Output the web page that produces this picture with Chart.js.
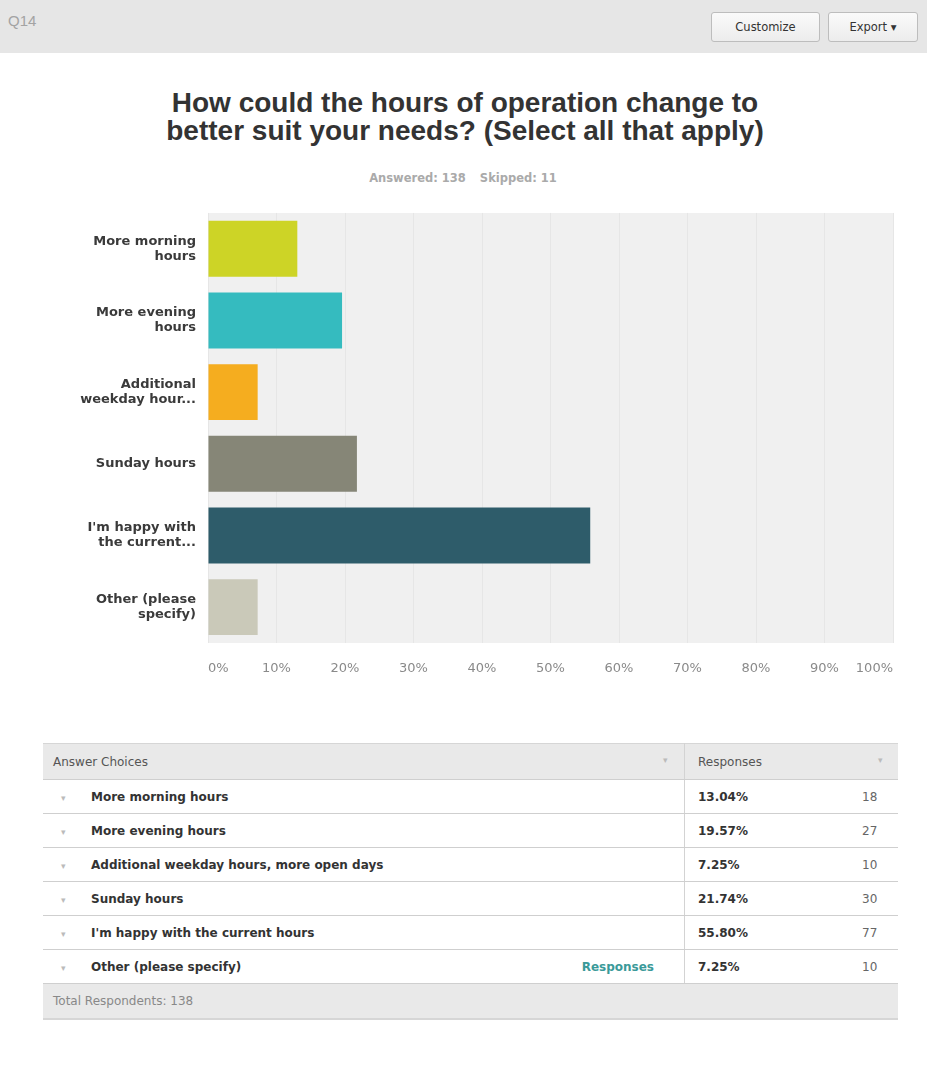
<!DOCTYPE html>
<html lang="en">
  <head>
    <meta charset="UTF-8" />
    <title>Q14 - Hours of operation</title>
    <script src="https://cdn.jsdelivr.net/npm/chart.js"></script>
    <style>
      body {
        margin: 0;
        width: 930px;
        height: 1074px;
        position: relative;
        background: #fff;
        font-family: "Liberation Sans", Arial, sans-serif;
        overflow: hidden;
      }
      .topbar {
        position: absolute;
        left: 0;
        top: 0;
        width: 927px;
        height: 53px;
        background: #e6e6e6;
      }
      .qnum {
        position: absolute;
        left: 8px;
        top: 12px;
        font-size: 15px;
        color: #a3a3a3;
      }
      .btn {
        position: absolute;
        top: 12px;
        height: 28px;
        line-height: 28px;
        border: 1px solid #bdbdbd;
        border-radius: 3px;
        background: linear-gradient(#fafafa, #ececec);
        font-family: "DejaVu Sans", sans-serif;
        font-size: 11.5px;
        color: #333;
        text-align: center;
      }
      h1 {
        position: absolute;
        left: 0;
        width: 930px;
        top: 89px;
        margin: 0;
        text-align: center;
        font-family: "Liberation Sans", Arial, sans-serif;
        font-weight: bold;
        font-size: 28px;
        line-height: 28px;
        color: #333;
      }
      .sub {
        position: absolute;
        left: 0;
        width: 926px;
        top: 171px;
        text-align: center;
        font-family: "DejaVu Sans", sans-serif;
        font-weight: bold;
        font-size: 11.5px;
        color: #aaa;
      }
      .sub span {
        margin-left: 14px;
      }
      .chart-box {
        position: absolute;
        left: 40px;
        top: 186px;
        width: 871px;
        height: 499px;
      }
      table {
        position: absolute;
        left: 43px;
        top: 743px;
        width: 855px;
        border-collapse: collapse;
        font-family: "DejaVu Sans", sans-serif;
        font-size: 12px;
      }
      td {
        height: 33px;
        padding: 0;
        border-top: 1px solid #cfcfcf;
        border-bottom: 1px solid #cfcfcf;
        color: #333;
      }
      tr.head td {
        background: #e9e9e9;
        height: 35px;
        font-weight: normal;
        color: #555;
        border-top: 1px solid #d6d6d6;
      }
      tr.foot td {
        background: #e9e9e9;
        height: 34px;
        color: #888;
        border-bottom: 2px solid #d6d6d6;
      }
      td.c1 {
        width: 641px;
        border-right: 1px solid #d3d3d3;
        position: relative;
      }
      td.c2 {
        position: relative;
      }
      .arrow {
        display: inline-block;
        width: 30px;
        padding-left: 18px;
        color: #bbb;
        font-size: 9px;
      }
      .choice {
        font-weight: bold;
      }
      .pct {
        position: absolute;
        left: 13px;
        top: 10px;
        font-weight: bold;
      }
      .cnt {
        position: absolute;
        left: 177px;
        top: 10px;
        color: #666;
      }
      .link {
        position: absolute;
        right: 30px;
        top: 10px;
        color: #3a9a99;
        font-weight: bold;
      }
      .sort {
        position: absolute;
        top: 11px;
        color: #bbb;
        font-size: 9px;
      }
    </style>
  </head>
  <body>
    <div class="topbar">
      <div class="qnum">Q14</div>
      <div class="btn" style="left: 711px; width: 107px">Customize</div>
      <div class="btn" style="left: 828px; width: 88px">Export &#9662;</div>
    </div>

    <h1>How could the hours of operation change to<br />better suit your needs? (Select all that apply)</h1>
    <div class="sub" id="sub"></div>

    <div class="chart-box"><canvas id="hoursChart"></canvas></div>

    <table id="answers"></table>

    <script>
      // answer choices as shown on the axis (wrapped and truncated) and in the table
      const axisLabels = [
        ["More morning", "hours"],
        ["More evening", "hours"],
        ["Additional", "weekday hour..."],
        ["Sunday hours"],
        ["I'm happy with", "the current..."],
        ["Other (please", "specify)"],
      ];
      const choices = [
        "More morning hours",
        "More evening hours",
        "Additional weekday hours, more open days",
        "Sunday hours",
        "I'm happy with the current hours",
        "Other (please specify)",
      ];
      const percents = [13.04, 19.57, 7.25, 21.74, 55.8, 7.25];
      const counts = [18, 27, 10, 30, 77, 10];
      const barColors = ["#cdd426", "#35bbbf", "#f5ad1f", "#868677", "#2e5c6a", "#cac9b9"];
      const answered = 138;
      const skipped = 11;
      const xTicks = [0, 10, 20, 30, 40, 50, 60, 70, 80, 90, 100];

      document.getElementById("sub").innerHTML =
        "Answered: " + answered + "<span>Skipped: " + skipped + "</span>";

      // light grey plot background
      const plotBg = {
        id: "plotBg",
        beforeDraw(chart) {
          const { ctx, chartArea } = chart;
          ctx.save();
          ctx.fillStyle = "#f0f0f0";
          ctx.fillRect(chartArea.left, chartArea.top, chartArea.right - chartArea.left, chartArea.bottom - chartArea.top);
          ctx.restore();
        },
      };

      new Chart(document.getElementById("hoursChart"), {
        type: "bar",
        data: {
          labels: axisLabels,
          datasets: [
            {
              data: percents,
              backgroundColor: barColors,
              borderWidth: 0,
              categoryPercentage: 1,
              barPercentage: 0.78,
            },
          ],
        },
        options: {
          indexAxis: "y",
          responsive: true,
          maintainAspectRatio: false,
          animation: false,
          layout: { padding: { top: 13, right: 7 } },
          plugins: {
            legend: { display: false },
            tooltip: { enabled: false },
          },
          scales: {
            x: {
              min: 0,
              max: 100,
              afterBuildTicks(scale) {
                scale.ticks = xTicks.map((v) => ({ value: v }));
              },
              afterFit(scale) {
                scale.height = 42;
              },
              grid: { color: "#e6e6e6", drawTicks: false },
              border: { display: false },
              ticks: {
                align: "inner",
                padding: 18,
                color: "#8a8a8a",
                font: { family: "DejaVu Sans", size: 13 },
                callback: (v) => v + "%",
              },
            },
            y: {
              afterFit(scale) {
                scale.width = 168;
              },
              grid: { display: false, drawTicks: false },
              border: { display: false },
              ticks: {
                padding: 12,
                color: "#3a3a3a",
                font: { family: "DejaVu Sans", size: 13, weight: "bold", lineHeight: 1.15 },
              },
            },
          },
        },
        plugins: [plotBg],
      });

      // response table under the chart
      const table = document.getElementById("answers");
      let html =
        '<tr class="head"><td class="c1"><span style="padding-left:10px">Answer Choices</span>' +
        '<span class="sort" style="left:620px">&#9662;</span></td>' +
        '<td class="c2"><span style="padding-left:13px">Responses</span>' +
        '<span class="sort" style="left:193px">&#9662;</span></td></tr>';
      choices.forEach((c, i) => {
        html +=
          '<tr><td class="c1"><span class="arrow">&#9662;</span><span class="choice">' +
          c.replace("'", "&#39;") +
          "</span>" +
          (i === choices.length - 1 ? '<span class="link">Responses</span>' : "") +
          '</td><td class="c2"><span class="pct">' +
          percents[i].toFixed(2) +
          '%</span><span class="cnt">' +
          counts[i] +
          "</span></td></tr>";
      });
      html +=
        '<tr class="foot"><td colspan="2"><span style="padding-left:10px">Total Respondents: ' +
        answered +
        "</span></td></tr>";
      table.innerHTML = html;
    </script>
  </body>
</html>
